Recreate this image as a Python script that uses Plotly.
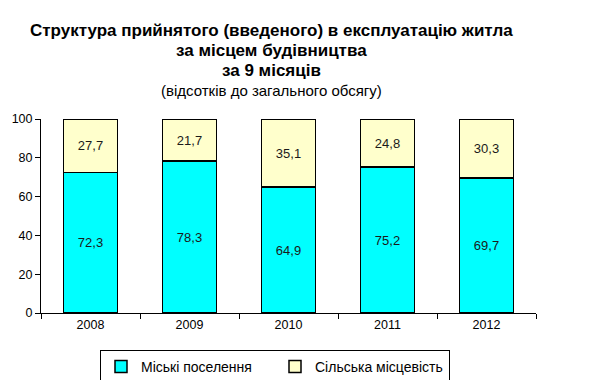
import plotly.graph_objects as go

years = ["2008", "2009", "2010", "2011", "2012"]
urban = [72.3, 78.3, 64.9, 75.2, 69.7]
rural = [27.7, 21.7, 35.1, 24.8, 30.3]
series_names = ["Міські поселення", "Сільська місцевість"]
y_ticks = [0, 20, 40, 60, 80, 100]
title_lines = [
    "<b>Структура прийнятого (введеного) в експлуатацію житла</b>",
    "<b>за місцем будівництва</b>",
    "<b>за 9 місяців</b>",
    "(відсотків до загального обсягу)",
]

font_family = "Liberation Sans, Arial, sans-serif"

# Page body has an 8px margin, so the figure is 8px smaller than the window
W, H = 582, 372
L, T, R, B = 33, 111, 54, 67
plot_h = H - T - B

fig = go.Figure()
fig.add_trace(go.Bar(
    x=years, y=urban, name=series_names[0],
    marker=dict(color="#00FFFF", line=dict(color="#000000", width=1.5)),
    texttemplate="%{y:.1f}", textposition="inside", insidetextanchor="middle",
    textfont=dict(size=13, color="#1a1a1a", family=font_family),
    textangle=0,
))
fig.add_trace(go.Bar(
    x=years, y=rural, name=series_names[1],
    marker=dict(color="#FFFFCC", line=dict(color="#000000", width=1.5)),
    texttemplate="%{y:.1f}", textposition="inside", insidetextanchor="middle",
    textfont=dict(size=13, color="#1a1a1a", family=font_family),
    textangle=0,
))

line_centers = [22, 42.5, 62.5, 82]
line_sizes = [17, 17, 17, 15]
plot_w = W - L - R
for txt, yc, sz in zip(title_lines, line_centers, line_sizes):
    fig.add_annotation(
        text=txt, xref="paper", yref="paper",
        x=(263 - L) / plot_w, y=(H - B - yc) / plot_h,
        xanchor="center", yanchor="middle", showarrow=False,
        font=dict(size=sz, family=font_family, color="#000000"),
    )

fig.update_layout(
    width=W, height=H,
    barmode="stack", bargap=0.45,
    separators=",.",
    paper_bgcolor="white", plot_bgcolor="white",
    margin=dict(l=L, r=R, t=T, b=B, autoexpand=False),
    font=dict(family=font_family, color="#000000"),
    xaxis=dict(
        showline=True, linecolor="#000000", linewidth=1,
        ticks="outside", tickson="boundaries", ticklen=5, tickcolor="#000000",
        tickfont=dict(size=12.5), showgrid=False,
    ),
    yaxis=dict(
        range=[0, 100], tickvals=y_ticks, showline=True, linecolor="#000000", linewidth=1,
        ticks="outside", ticklen=5, tickcolor="#000000",
        tickfont=dict(size=12.5), showgrid=False, zeroline=False,
    ),
    legend=dict(
        orientation="h", x=267 / W, xanchor="center", xref="container",
        y=1 - 342 / H, yanchor="top", yref="container",
        bordercolor="#000000", borderwidth=1, font=dict(size=14),
        itemwidth=30, entrywidth=129, traceorder="normal", tracegroupgap=0,
    ),
    showlegend=True,
)

fig.write_html("out.html")
